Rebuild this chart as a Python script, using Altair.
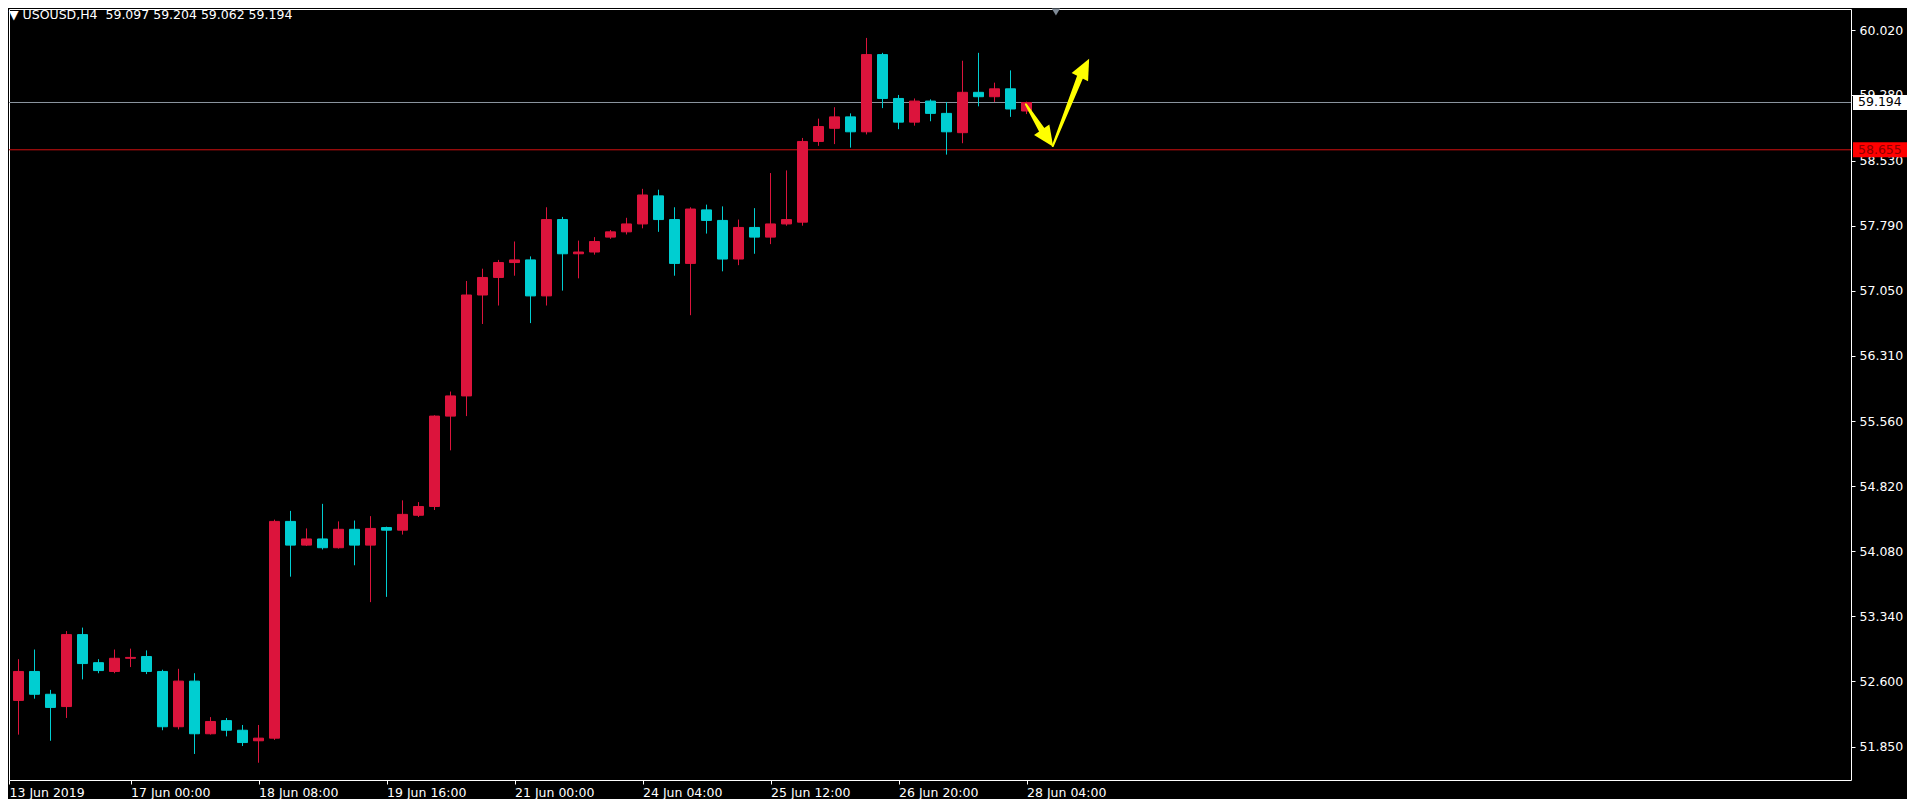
import json
import math
import altair as alt
import pandas as pd

# ---------------- data (H4 bars) ----------------
opens = [52.40, 52.38, 52.71, 52.45, 52.31, 53.13, 52.81, 52.71, 52.86, 52.88,
         52.71, 52.08, 52.60, 52.00, 52.15, 52.04, 51.92, 51.95, 54.42, 54.15,
         54.22, 54.12, 54.33, 54.15, 54.35, 54.32, 54.49, 54.59, 55.62, 55.85,
         57.00, 57.20, 57.37, 57.40, 56.99, 57.86, 57.47, 57.49, 57.66, 57.72,
         57.81, 58.13, 57.86, 57.36, 57.97, 57.85, 57.41, 57.77, 57.66, 57.81,
         57.83, 58.75, 58.90, 59.03, 58.86, 59.74, 59.24, 58.97, 59.21, 59.07,
         58.85, 59.31, 59.26, 59.35, 59.097]
highs = [52.48, 52.85, 52.96, 52.50, 53.17, 53.21, 52.85, 52.96, 52.97, 52.95,
         52.73, 52.74, 52.69, 52.19, 52.18, 52.10, 52.10, 54.44, 54.54, 54.34,
         54.62, 54.42, 54.43, 54.48, 54.36, 54.66, 54.64, 55.63, 55.90, 57.16,
         57.30, 57.40, 57.61, 57.44, 58.00, 57.89, 57.62, 57.66, 57.74, 57.88,
         58.21, 58.20, 58.00, 58.00, 58.03, 58.01, 57.86, 57.99, 58.39, 58.42,
         58.79, 59.01, 59.14, 59.07, 59.93, 59.76, 59.28, 59.24, 59.23, 59.20,
         59.67, 59.76, 59.42, 59.56, 59.204]
lows = [52.36, 51.99, 52.40, 51.92, 52.18, 52.62, 52.69, 52.69, 52.76, 52.68,
        52.04, 52.05, 51.77, 51.99, 51.97, 51.86, 51.67, 51.93, 53.79, 54.14,
        54.10, 54.11, 53.92, 53.50, 53.56, 54.27, 54.47, 54.55, 55.23, 55.62,
        56.67, 56.88, 57.22, 56.68, 56.88, 57.05, 57.19, 57.46, 57.64, 57.69,
        57.76, 57.72, 57.22, 56.77, 57.70, 57.27, 57.34, 57.47, 57.58, 57.79,
        57.79, 58.70, 58.72, 58.68, 58.83, 59.13, 58.89, 58.93, 58.98, 58.60,
        58.73, 59.15, 59.20, 59.03, 59.062]
closes = [52.42, 52.71, 52.45, 52.30, 53.13, 52.80, 52.72, 52.86, 52.87, 52.71,
          52.08, 52.60, 52.00, 52.14, 52.04, 51.90, 51.95, 54.42, 54.15, 54.22,
          54.12, 54.33, 54.15, 54.34, 54.32, 54.50, 54.59, 55.62, 55.85, 57.00,
          57.20, 57.37, 57.40, 56.99, 57.86, 57.47, 57.49, 57.61, 57.72, 57.81,
          58.14, 57.86, 57.36, 57.98, 57.85, 57.41, 57.77, 57.66, 57.81, 57.86,
          58.75, 58.92, 59.03, 58.86, 59.74, 59.24, 58.97, 59.21, 59.07, 58.86,
          59.31, 59.26, 59.35, 59.12, 59.194]

symbol = "USOUSD,H4"
time_tick_index = [0, 8, 16, 24, 32, 40, 48, 56, 64]
time_tick_labels = ["13 Jun 2019", "17 Jun 00:00", "18 Jun 08:00", "19 Jun 16:00",
                    "21 Jun 00:00", "24 Jun 04:00", "25 Jun 12:00", "26 Jun 20:00",
                    "28 Jun 04:00"]
price_ticks = [60.020, 59.280, 58.530, 57.790, 57.050, 56.310, 55.560, 54.820,
               54.080, 53.340, 52.600, 51.850]

bid_price = 59.194
level_price = 58.655

# hand-drawn arrows (bar index, price)
arrow_start_i = [63.96, 65.64]
arrow_start_p = [59.173, 58.698]
arrow_base_i = [64.98, 67.38]
arrow_base_p = [58.875, 59.500]
arrow_tip_i = [65.64, 67.87]
arrow_tip_p = [58.698, 59.676]

shift_marker_i = [65.84]

# ---------------- layout / style ----------------
W, H = 1842, 771
X0 = 0.40625
X1 = X0 + W / 16.0
Y_TOP = 60.2595
Y_BOT = 51.473
PX_X = W / (X1 - X0)
PX_Y = H / (Y_TOP - Y_BOT)

FONT = "DejaVu Sans"
FS = 12.5
UP = "#DC143C"
DOWN = "#00CED1"
FG = "#FFFFFF"

n = len(opens)
half = 5.0 / 16.0
df = pd.DataFrame({
    "i": list(range(n)),
    "o": opens, "h": highs, "l": lows, "c": closes,
})
df["dir"] = ["up" if c >= o else "down" for o, c in zip(opens, closes)]
df["bl"] = df[["o", "c"]].min(axis=1)
df["bh"] = df[["o", "c"]].max(axis=1)
df["x0"] = df["i"] - half
df["x1"] = df["i"] + half

cs = alt.Scale(domain=["up", "down"], range=[UP, DOWN])
xs = alt.Scale(domain=[X0, X1], nice=False, zero=False)
ys = alt.Scale(domain=[Y_BOT, Y_TOP], nice=False, zero=False)

x_vals = [X0 if v == 0 else v for v in time_tick_index]
x_axis = alt.Axis(values=x_vals, labelExpr=json.dumps(time_tick_labels) + "[round(datum.value / 8)]",
                  orient="bottom", domain=False, grid=False, ticks=True, tickColor=FG,
                  tickSize=4, labelColor=FG, labelFont=FONT, labelFontSize=FS,
                  labelAlign="left", labelBaseline="top", labelPadding=2,
                  labelFlush=False, labelOverlap=False, title=None)
y_axis = alt.Axis(values=price_ticks, format=".3f", orient="right", domain=False,
                  grid=False, ticks=True, tickColor=FG, tickSize=4, labelColor=FG,
                  labelFont=FONT, labelFontSize=FS, labelPadding=4,
                  labelBaseline="middle", labelOverlap=False, labelFlush=False, title=None)


def X(f):
    return alt.X(f, type="quantitative", scale=xs, axis=x_axis)


def Y(f):
    return alt.Y(f, type="quantitative", scale=ys, axis=y_axis)


lines_df = pd.DataFrame({"price": [bid_price, level_price],
                         "col": ["#8C96A0", "#D01010"],
                         "box": ["#FFFFFF", "#FF0000"],
                         "txt": ["#000000", "#8B0000"],
                         "label": [f"{bid_price:.3f}", f"{level_price:.3f}"]})

price_lines = alt.Chart(lines_df).mark_rule(strokeWidth=1).encode(
    y=Y("price"), color=alt.Color("col:N", scale=None))

wicks = alt.Chart(df).mark_rule(strokeWidth=1, clip=True).encode(
    x=X("i"), y=Y("l"), y2="h", color=alt.Color("dir:N", scale=cs, legend=None))

bodies = alt.Chart(df).mark_rect(strokeWidth=1, clip=True).encode(
    x=X("x0"), x2="x1", y=Y("bl"), y2="bh",
    fill=alt.Fill("dir:N", scale=cs, legend=None),
    stroke=alt.Stroke("dir:N", scale=cs, legend=None))

boxes = alt.Chart(lines_df).mark_rect(yOffset=-7.5, y2Offset=7.5).encode(
    x=alt.value(W + 2), x2=alt.value(W + 56), y=Y("price"), y2="price",
    fill=alt.Fill("box:N", scale=None))

box_text = alt.Chart(lines_df).mark_text(align="left", baseline="middle", font=FONT,
                                          fontSize=FS).encode(
    x=alt.value(W + 7), y=Y("price"), text="label:N", color=alt.Color("txt:N", scale=None))

# arrows: tapered shaft (trail) + triangular head
shaft_rows = []
head_rows = []
for k in range(len(arrow_start_i)):
    shaft_rows.append({"arrow": k, "seq": 0, "ax": arrow_start_i[k], "ay": arrow_start_p[k], "aw": 2.0})
    shaft_rows.append({"arrow": k, "seq": 1, "ax": arrow_base_i[k], "ay": arrow_base_p[k], "aw": 6.5})
    dx = (arrow_tip_i[k] - arrow_base_i[k]) * PX_X
    dy = -(arrow_tip_p[k] - arrow_base_p[k]) * PX_Y
    ang = math.degrees(math.atan2(dx, -dy)) % 360
    head_rows.append({"hx": (arrow_base_i[k] + arrow_tip_i[k]) / 2,
                      "hy": (arrow_base_p[k] + arrow_tip_p[k]) / 2, "ang": ang})
shaft_df = pd.DataFrame(shaft_rows)
head_df = pd.DataFrame(head_rows)

shafts = alt.Chart(shaft_df).mark_trail(color="#FFFF00").encode(
    x=X("ax"), y=Y("ay"), size=alt.Size("aw:Q", scale=None, legend=None),
    detail="arrow:N", order="seq:O")

heads = alt.Chart(head_df).mark_point(shape="M0,-1L0.9,1L-0.9,1Z", filled=True,
                                      color="#FFFF00", opacity=1, size=420,
                                      strokeWidth=0).encode(
    x=X("hx"), y=Y("hy"), angle=alt.Angle("ang:Q", scale=None))

title_df = pd.DataFrame({"t": ["\u25BC " + symbol + "\u00a0 " + " ".join(
    f"{v:.3f}" for v in (opens[-1], highs[-1], lows[-1], closes[-1]))]})
title = alt.Chart(title_df).mark_text(align="left", baseline="middle", font=FONT,
                                      fontSize=FS, color=FG).encode(
    x=alt.value(0), y=alt.value(6), text="t:N")

marker = alt.Chart(pd.DataFrame({"i": shift_marker_i})).mark_point(
    shape="triangle-down", filled=True, color="#7F8A96", size=70, opacity=1).encode(
    x=X("i"), y=alt.value(3))

chart = alt.layer(price_lines, wicks, bodies, boxes, box_text, shafts, heads, title, marker).properties(
    width=W, height=H, padding=0, background="black"
).configure_view(stroke="#FFFFFF", strokeWidth=1)

chart.save("out.html", embed_options={"renderer": "svg", "actions": False})
